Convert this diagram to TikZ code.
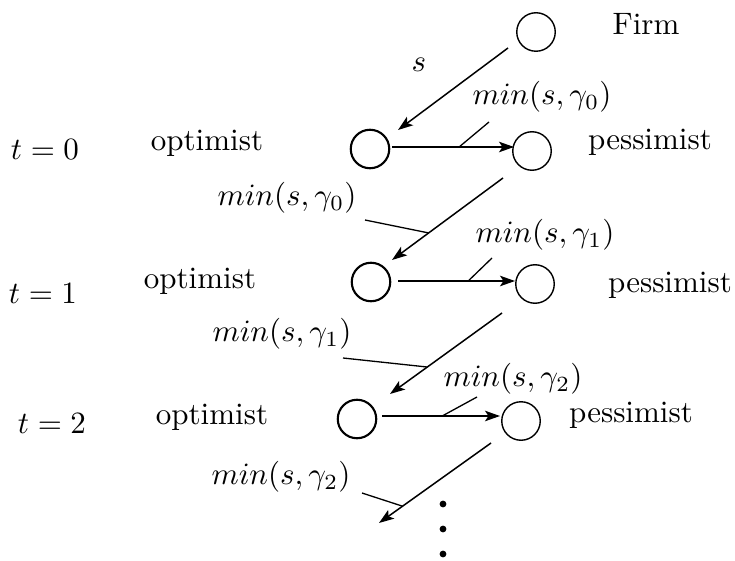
\documentclass[tikz,border=0pt]{standalone}
\usetikzlibrary{arrows.meta,calc}
\begin{document}
\begin{tikzpicture}[x=1pt,y=-1pt,
  lbl/.style={scale=3.1, inner sep=0pt},
  optc/.style={circle,draw,line width=2.1pt,minimum size=38.5pt,inner sep=0pt},
  pesc/.style={circle,draw,line width=1.4pt,minimum size=38.5pt,inner sep=0pt},
  arr/.style={line width=1.5pt,-{Stealth[length=15pt,width=10.5pt,inset=3.5pt]}},
  lead/.style={line width=1.3pt},
  dotn/.style={circle,fill,inner sep=0pt,minimum size=6.8pt}]
\useasboundingbox (0,0) rectangle (735,561);

% circles
\node[pesc] (F)  at (536,32) {};
\node[optc] (O0) at (370,149) {};
\node[pesc] (P0) at (532,151) {};
\node[optc] (O1) at (371,282) {};
\node[pesc] (P1) at (535,284) {};
\node[optc] (O2) at (357,419) {};
\node[pesc] (P2) at (521,421) {};
\coordinate (E) at (379,523);

% text labels
\node[lbl] (firm) at (646,24) {Firm};
\node[lbl] (s) at (419,65) {$s$};
\node[lbl] (t0) at (45,150) {$t=0$};
\node[lbl] (t1) at (43,294) {$t=1$};
\node[lbl] (t2) at (52,424) {$t=2$};
\node[lbl] (op0) at (207,143) {optimist};
\node[lbl] (op1) at (200,281) {optimist};
\node[lbl] (op2) at (212,417) {optimist};
\node[lbl] (pe0) at (650,142) {pessimist};
\node[lbl] (pe1) at (670,285) {pessimist};
\node[lbl] (pe2) at (631,415) {pessimist};
\node[lbl] (mr0) at (542,97) {$min(s,\gamma_0)$};
\node[lbl] (ml0) at (287,198) {$min(s,\gamma_0)$};
\node[lbl] (mr1) at (545,235) {$min(s,\gamma_1)$};
\node[lbl] (ml1) at (282,334) {$min(s,\gamma_1)$};
\node[lbl] (mr2) at (513,379) {$min(s,\gamma_2)$};
\node[lbl] (ml2) at (281,477) {$min(s,\gamma_2)$};

% arrows
\draw[arr] ($(F)+(-28,16)$) -- ($(O0)+(28,-19)$);
\draw[arr] ($(O0)+(22,-2)$) -- coordinate[pos=0.55] (a0) ($(P0)+(-18,-4)$);
\draw[arr] ($(P0)+(-29,27)$) -- coordinate[pos=0.67] (b0) ($(O1)+(21,-22)$);
\draw[arr] ($(O1)+(27,-1)$) -- coordinate[pos=0.6] (a1) ($(P1)+(-20,-3)$);
\draw[arr] ($(P1)+(-33,29)$) -- coordinate[pos=0.667] (b1) ($(O2)+(33,-25)$);
\draw[arr] ($(O2)+(25,-3)$) -- coordinate[pos=0.51] (a2) ($(P2)+(-21,-5)$);
\draw[arr] ($(P2)+(-30,22)$) -- coordinate[pos=0.79] (b2) (E);

% leader lines
\draw[lead] ($(mr0)+(-53,25)$) -- (a0);
\draw[lead] ($(ml0)+(78,22)$) -- (b0);
\draw[lead] ($(mr1)+(-53,23)$) -- (a1);
\draw[lead] ($(ml1)+(61,24)$) -- (b1);
\draw[lead] ($(mr2)+(-36,18)$) -- (a2);
\draw[lead] ($(ml2)+(81,16)$) -- (b2);

% dots
\node[dotn] (d1) at (443,504) {};
\node[dotn] (d2) at (443,529) {};
\node[dotn] (d3) at (443,554) {};
\end{tikzpicture}
\end{document}
